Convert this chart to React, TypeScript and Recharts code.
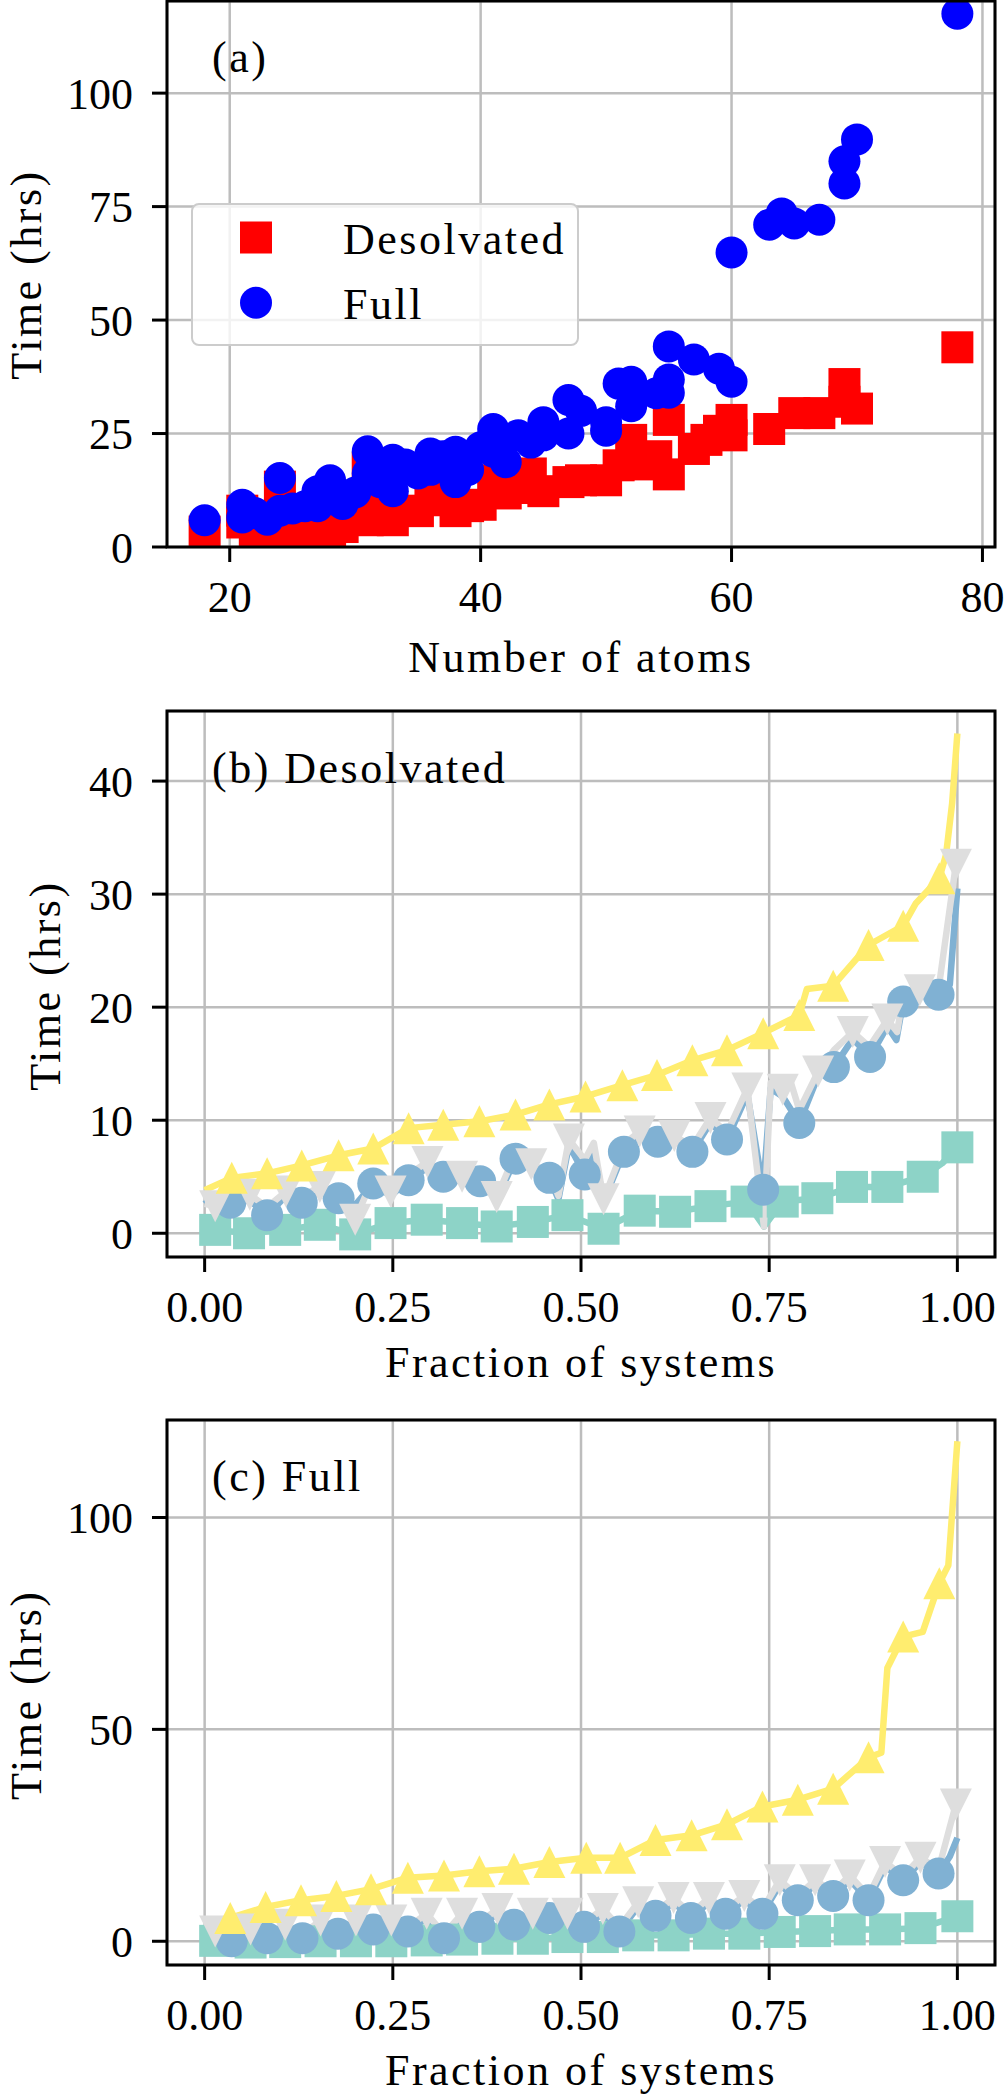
import { ComposedChart, Line, Scatter, XAxis, YAxis, CartesianGrid } from "recharts";

const FONT = "'Liberation Serif', 'Times New Roman', serif";
const W = 1004;
const PLOT_L = 167;
const PLOT_R = 995;
const MK = 32; // marker size in px

const RED = "#ff0000";
const BLUE = "#0000ff";
const TEAL = "#8dd3c7";
const SKY = "#80b1d3";
const GREY = "#dedede";
const YELLOW = "#ffed6f";

// ---- (a) time vs number of atoms: [atoms, hrs]
const atomTicks = [20, 40, 60, 80];
const timeTicksA = [0, 25, 50, 75, 100];
const desolvatedPts = [
  [18, 3.4], [21, 5.4], [21, 8], [22, 3], [23, 2], [24, 13.3], [24, 3], [25, 4], [26, 3],
  [27, 4], [28, 3.4], [29, 4.4], [30, 6], [31, 17.4], [31, 5.9], [32, 9.3], [33, 5.9],
  [34, 8], [35, 7.9], [36, 10.3], [37, 12.3], [38, 7.9], [39, 9], [40, 9.3], [41, 14.7],
  [42, 11.8], [43, 13], [44, 16.2], [45, 12.3], [47, 14.3], [48, 14.7], [50, 14.7],
  [51, 18], [52, 23.6], [53, 18.2], [54, 20], [55, 28], [55, 16], [57, 21.6], [58, 23.6],
  [59, 25.6], [60, 28], [60, 24.6], [63, 26], [65, 29.5], [67, 29.5], [69, 35.9], [69, 32],
  [70, 30.5], [78, 44],
];
const fullPts = [
  [18, 5.9], [21, 9.3], [21, 6.5], [22, 7.5], [23, 6], [24, 15.2], [24, 8], [25, 8.5],
  [26, 9], [27, 12.3], [27, 9], [28, 14.7], [29, 9.5], [30, 12], [31, 21.1], [31, 16.2],
  [32, 14.3], [32, 18], [33, 19.2], [33, 12.3], [34, 18.2], [35, 16.2], [36, 20.6], [36, 17],
  [37, 20], [38, 21], [38, 14.3], [39, 17], [40, 22], [41, 26], [41, 21], [42, 18.7],
  [43, 24.6], [44, 23], [45, 27.5], [45, 24.6], [47, 32.4], [47, 25], [48, 30], [50, 27.5],
  [50, 25.6], [51, 36], [52, 36.4], [52, 31], [54, 33.9], [55, 44.2], [55, 36.9], [55, 34],
  [57, 41.3], [59, 39.3], [60, 36.4], [60, 64.9], [63, 71], [64, 73.5], [65, 71.3],
  [67, 72.1], [69, 80.1], [69, 85], [70, 89.8], [78, 117.5],
];

// ---- (b),(c) time vs fraction of systems: marker points + other line vertices
const fracTicks = [0, 0.25, 0.5, 0.75, 1];
const timeTicksB = [0, 10, 20, 30, 40];
const timeTicksC = [0, 50, 100];

const squareB = [
  [0.014, 0.3], [0.059, 0], [0.107, 0.3], [0.153, 0.75], [0.2, -0.1], [0.247, 0.9],
  [0.295, 1.2], [0.342, 0.9], [0.388, 0.6], [0.436, 1.0], [0.482, 1.6], [0.53, 0.4],
  [0.578, 2.0], [0.625, 1.9], [0.672, 2.4], [0.72, 2.8], [0.768, 2.8], [0.814, 3.1],
  [0.86, 4.1], [0.907, 4.1], [0.954, 5.0], [1.0, 7.6],
];
const squareBKinks = [[0, 0.3], [0.743, 0.6], [0.98, 6.2]];
const circleB = [
  [0.034, 2.7], [0.083, 1.6], [0.129, 2.7], [0.178, 3.1], [0.224, 4.4], [0.271, 4.7],
  [0.317, 5.0], [0.366, 4.6], [0.413, 6.6], [0.458, 4.9], [0.505, 5.2], [0.557, 7.2],
  [0.602, 8.1], [0.648, 7.2], [0.694, 8.3], [0.742, 3.85], [0.79, 9.75], [0.836, 14.7],
  [0.884, 15.6], [0.928, 20.5], [0.975, 21.1],
];
const circleBKinks = [
  [0, 3.0], [0.014, 2.2], [0.06, 2.9], [0.108, 3.3], [0.153, 3.7], [0.2, 2.5], [0.247, 3.3],
  [0.296, 5.8], [0.342, 4.6], [0.388, 3.0], [0.434, 5.7], [0.47, 3.0], [0.484, 7.8],
  [0.517, 7.5], [0.53, 2.8], [0.578, 8.5], [0.624, 8.2], [0.672, 9.8], [0.721, 12.3],
  [0.752, 12.8], [0.768, 12.1], [0.815, 13.9], [0.861, 17.2], [0.907, 18.3], [0.919, 17.1],
  [0.95, 21.0], [0.99, 22], [1.0, 30.5],
];
const downB = [
  [0.014, 2.4], [0.06, 3.4], [0.108, 3.7], [0.153, 4.1], [0.2, 1.2], [0.247, 3.7],
  [0.296, 6.3], [0.342, 5.0], [0.388, 3.2], [0.434, 6.1], [0.484, 8.3], [0.53, 3.0],
  [0.578, 9.0], [0.624, 8.6], [0.672, 10.2], [0.721, 12.8], [0.768, 12.7], [0.815, 14.3],
  [0.861, 17.8], [0.907, 18.9], [0.95, 21.5], [0.998, 32.6],
];
const downBKinks = [
  [0, 2.6], [0.034, 3.2], [0.083, 2.3], [0.129, 3.3], [0.178, 3.7], [0.224, 4.9],
  [0.271, 5.2], [0.317, 5.5], [0.366, 5.1], [0.413, 7.1], [0.458, 5.4], [0.47, 3.3],
  [0.505, 6.5], [0.517, 8.0], [0.559, 8.0], [0.603, 8.6], [0.648, 7.7], [0.694, 8.9],
  [0.743, 0.6], [0.752, 13.3], [0.779, 13.3], [0.79, 10.9], [0.836, 16.2], [0.883, 16.5],
  [0.92, 17.8], [0.928, 21], [0.975, 21.6],
];
const upB = [
  [0.036, 4.9], [0.083, 5.3], [0.129, 6.0], [0.178, 6.9], [0.224, 7.5], [0.271, 9.3],
  [0.317, 9.6], [0.365, 9.9], [0.413, 10.5], [0.458, 11.4], [0.506, 12.1], [0.555, 13.1],
  [0.601, 14.0], [0.648, 15.3], [0.694, 16.2], [0.742, 17.7], [0.79, 19.3], [0.835, 21.9],
  [0.882, 25.5], [0.928, 27.2], [0.976, 31.4],
];
const upBKinks = [[0, 3.8], [0.8, 21.6], [0.945, 29.2], [0.985, 33.5], [0.993, 38], [1.0, 44.2]];

const squareC = [
  [0.014, 0.1], [0.061, -0.3], [0.107, -0.2], [0.154, 0], [0.201, 0], [0.248, 0],
  [0.295, 0.2], [0.342, 0.4], [0.389, 0.6], [0.436, 0.6], [0.482, 1.0], [0.529, 1.0],
  [0.576, 1.4], [0.623, 1.4], [0.67, 1.8], [0.717, 1.8], [0.764, 2.2], [0.811, 2.4],
  [0.857, 2.8], [0.904, 2.8], [0.951, 3.1], [1.0, 5.9],
];
const squareCKinks = [[0, 0.1]];
const circleC = [
  [0.036, 0], [0.083, 0.7], [0.13, 0.7], [0.177, 1.8], [0.224, 2.8], [0.27, 2.3],
  [0.318, 0.7], [0.365, 3.4], [0.411, 3.9], [0.458, 5.5], [0.504, 3.4], [0.551, 2.3],
  [0.599, 6.0], [0.646, 5.5], [0.692, 6.5], [0.741, 6.5], [0.788, 9.7], [0.835, 10.7],
  [0.882, 9.7], [0.928, 14.4], [0.975, 16.0],
];
const circleCKinks = [
  [0, 1.5], [0.014, 1.3], [0.061, 1.8], [0.107, 2.9], [0.154, 3.9], [0.201, 3.9], [0.248, 3.9],
  [0.295, 5.5], [0.342, 5.5], [0.389, 6.6], [0.436, 5.5], [0.482, 5.5], [0.529, 6.6],
  [0.576, 8.2], [0.623, 9.2], [0.67, 9.2], [0.717, 9.7], [0.764, 13.4], [0.811, 13.4],
  [0.857, 14.5], [0.904, 17.7], [0.951, 18.7], [0.99, 20], [1.0, 24.4],
];
const downC = [
  [0.014, 2.3], [0.061, 2.8], [0.107, 3.9], [0.154, 4.9], [0.201, 4.9], [0.248, 4.9],
  [0.295, 6.5], [0.342, 6.5], [0.389, 7.6], [0.436, 6.5], [0.482, 6.5], [0.529, 7.6],
  [0.576, 9.2], [0.623, 10.2], [0.67, 10.2], [0.717, 10.7], [0.764, 14.4], [0.811, 14.4],
  [0.857, 15.5], [0.904, 18.7], [0.951, 19.7], [0.998, 32.3],
];
const downCKinks = [
  [0, 2.0], [0.036, 1.0], [0.083, 1.7], [0.13, 1.7], [0.177, 2.8], [0.224, 3.8], [0.27, 3.3],
  [0.318, 1.7], [0.365, 4.4], [0.411, 4.9], [0.458, 6.5], [0.504, 4.4], [0.551, 3.3],
  [0.599, 7.0], [0.646, 6.5], [0.692, 7.5], [0.741, 7.5], [0.788, 10.7], [0.835, 11.7],
  [0.882, 10.7], [0.928, 15.4], [0.975, 17.0],
];
const upC = [
  [0.034, 5.5], [0.081, 8.1], [0.128, 9.7], [0.175, 10.7], [0.221, 12.3], [0.27, 15.0],
  [0.318, 15.5], [0.365, 16.5], [0.411, 17.1], [0.458, 18.7], [0.507, 19.7], [0.552, 19.7],
  [0.599, 23.9], [0.647, 25.0], [0.694, 27.6], [0.741, 31.8], [0.788, 33.4], [0.835, 36.0],
  [0.882, 43.4], [0.928, 71.9], [0.976, 84.5],
];
const upCKinks = [[0, 4.5], [0.899, 44.5], [0.907, 64.5], [0.954, 73], [0.988, 88.7], [1.0, 118]];

type Pt = { x: number; y: number; m: number };
const pts = (a: number[][]) => a.map(([x, y]) => ({ x, y }));
const series = (marks: number[][], kinks: number[][]): Pt[] =>
  [
    ...marks.map(([x, y]) => ({ x, y, m: 1 })),
    ...kinks.map(([x, y]) => ({ x, y, m: 0 })),
  ].sort((a, b) => a.x - b.x);

type Shape = "square" | "circle" | "up" | "down";
function marker(shape: Shape, cx: number, cy: number, fill: string, key?: any) {
  const h = MK / 2;
  if (shape === "square")
    return <rect key={key} x={cx - h} y={cy - h} width={MK} height={MK} fill={fill} />;
  if (shape === "circle") return <circle key={key} cx={cx} cy={cy} r={h} fill={fill} />;
  const d =
    shape === "up"
      ? `M${cx},${cy - h}L${cx - h},${cy + h}L${cx + h},${cy + h}Z`
      : `M${cx},${cy + h}L${cx - h},${cy - h}L${cx + h},${cy - h}Z`;
  return <path key={key} d={d} fill={fill} />;
}

const tickStyle = { fontSize: 44, fontFamily: FONT, fill: "#000" };
const tickLine = { stroke: "#000", strokeWidth: 3 };

function Panel({
  top,
  bottom,
  xDomain,
  xTicks,
  yDomain,
  yTicks,
  fmt,
  children,
}: {
  top: number;
  bottom: number;
  xDomain: number[];
  xTicks: number[];
  yDomain: number[];
  yTicks: number[];
  fmt?: (v: number) => string;
  children: any;
}) {
  return (
    <ComposedChart width={W} height={700} margin={{ top, right: W - PLOT_R, bottom: 0, left: 0 }}>
      <CartesianGrid stroke="#bdbdbd" strokeWidth={2.5} />
      <XAxis
        type="number"
        dataKey="x"
        domain={xDomain}
        ticks={xTicks}
        interval={0}
        allowDataOverflow
        height={700 - bottom}
        tickSize={15}
        tickMargin={19}
        axisLine={false}
        tickLine={tickLine}
        tick={tickStyle}
        tickFormatter={fmt}
      />
      <YAxis
        type="number"
        dataKey="y"
        domain={yDomain}
        ticks={yTicks}
        interval={0}
        allowDataOverflow
        width={PLOT_L}
        tickSize={15}
        tickMargin={19}
        axisLine={false}
        tickLine={tickLine}
        tick={tickStyle}
      />
      {children}
    </ComposedChart>
  );
}

function fracLine(data: Pt[], color: string, shape: Shape) {
  return (
    <Line
      key={color}
      data={data}
      dataKey="y"
      type="linear"
      stroke={color}
      strokeWidth={6.5}
      strokeLinejoin="round"
      isAnimationActive={false}
      activeDot={false}
      dot={(p: any) =>
        p.payload && p.payload.m ? marker(shape, p.cx, p.cy, color, p.index) : <g key={p.index} />
      }
    />
  );
}

const fmt2 = (v: number) => v.toFixed(2);

export default function App() {
  // plot-area tops and bottoms (page px)
  const A = { top: 1, bottom: 547 };
  const B = { top: 711, bottom: 1257 };
  const C = { top: 1420, bottom: 1965 };
  const txt = { fontFamily: FONT, fontSize: 44, fill: "#000", letterSpacing: 2.5 };
  const cx = (PLOT_L + PLOT_R) / 2;
  return (
    <div style={{ position: "absolute", left: 0, top: 0, width: W, height: 2100, background: "#fff" }}>
      <div style={{ position: "absolute", left: 0, top: 0 }}>
        <Panel top={A.top} bottom={A.bottom} xDomain={[15, 81]} xTicks={atomTicks} yDomain={[0, 120.3]} yTicks={timeTicksA}>
          <Scatter
            data={pts(desolvatedPts)}
            isAnimationActive={false}
            fill={RED}
            shape={(p: any) => marker("square", p.cx, p.cy, RED)}
          />
          <Scatter
            data={pts(fullPts)}
            isAnimationActive={false}
            fill={BLUE}
            shape={(p: any) => marker("circle", p.cx, p.cy, BLUE)}
          />
        </Panel>
      </div>
      <div style={{ position: "absolute", left: 0, top: 700 }}>
        <Panel top={B.top - 700} bottom={B.bottom - 700} xDomain={[-0.05, 1.05]} xTicks={fracTicks} yDomain={[-2.1, 46.2]} yTicks={timeTicksB} fmt={fmt2}>
          {fracLine(series(squareB, squareBKinks), TEAL, "square")}
          {fracLine(series(circleB, circleBKinks), SKY, "circle")}
          {fracLine(series(downB, downBKinks), GREY, "down")}
          {fracLine(series(upB, upBKinks), YELLOW, "up")}
        </Panel>
      </div>
      <div style={{ position: "absolute", left: 0, top: 1400 }}>
        <Panel top={C.top - 1400} bottom={C.bottom - 1400} xDomain={[-0.05, 1.05]} xTicks={fracTicks} yDomain={[-5.6, 123]} yTicks={timeTicksC} fmt={fmt2}>
          {fracLine(series(squareC, squareCKinks), TEAL, "square")}
          {fracLine(series(circleC, circleCKinks), SKY, "circle")}
          {fracLine(series(downC, downCKinks), GREY, "down")}
          {fracLine(series(upC, upCKinks), YELLOW, "up")}
        </Panel>
      </div>
      <svg width={W} height={2100} style={{ position: "absolute", left: 0, top: 0, pointerEvents: "none" }}>
        {[A, B, C].map((p, i) => (
          <rect key={i} x={PLOT_L} y={p.top} width={PLOT_R - PLOT_L} height={p.bottom - p.top} fill="none" stroke="#000" strokeWidth={3} />
        ))}
        {/* legend of (a) */}
        <rect x={192} y={204} width={386} height={141} rx={7} fill="#fff" fillOpacity={0.8} stroke="#cccccc" strokeWidth={2} />
        {marker("square", 256, 237.5, RED)}
        {marker("circle", 256, 302.7, BLUE)}
        <text x={343} y={254} {...txt}>Desolvated</text>
        <text x={343} y={319} {...txt}>Full</text>
        {/* panel tags */}
        <text x={212} y={72} {...txt}>(a)</text>
        <text x={212} y={783} {...txt}>(b) Desolvated</text>
        <text x={212} y={1491} {...txt}>(c) Full</text>
        {/* axis labels */}
        <text x={cx} y={672} textAnchor="middle" {...txt}>Number of atoms</text>
        <text x={cx} y={1377} textAnchor="middle" {...txt}>Fraction of systems</text>
        <text x={cx} y={2085} textAnchor="middle" {...txt}>Fraction of systems</text>
        <text transform="translate(41,274.5) rotate(-90)" textAnchor="middle" {...txt}>Time (hrs)</text>
        <text transform="translate(60,985.6) rotate(-90)" textAnchor="middle" {...txt}>Time (hrs)</text>
        <text transform="translate(41,1694.7) rotate(-90)" textAnchor="middle" {...txt}>Time (hrs)</text>
      </svg>
    </div>
  );
}
